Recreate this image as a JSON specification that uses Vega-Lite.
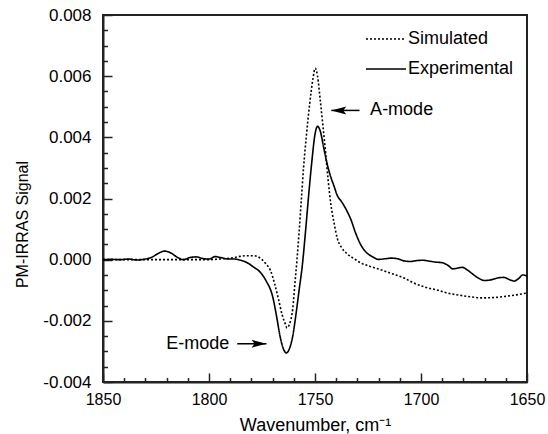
{
  "$schema": "https://vega.github.io/schema/vega-lite/v6.json",
  "width": 424,
  "height": 367,
  "autosize": {"type": "none"},
  "padding": {"left": 103, "top": 15, "right": 21, "bottom": 52},
  "background": "white",
  "config": {
    "font": "Liberation Sans",
    "view": {"stroke": "#222", "strokeWidth": 2},
    "axis": {
      "grid": false,
      "domainColor": "#222",
      "domainWidth": 2,
      "labelFont": "Liberation Sans",
      "labelFontSize": 16,
      "labelColor": "black",
      "titleFont": "Liberation Sans",
      "titleFontSize": 16,
      "titleFontWeight": "normal",
      "titleColor": "black"
    },
    "legend": {
      "labelFont": "Liberation Sans"
    }
  },
  "datasets": {
    "spectra": [
      {"wn": 1850, "signal": 0, "series": "Experimental"},
      {"wn": 1846, "signal": 0.00001, "series": "Experimental"},
      {"wn": 1842, "signal": 0, "series": "Experimental"},
      {"wn": 1838, "signal": 0.00002, "series": "Experimental"},
      {"wn": 1834, "signal": -0.00001, "series": "Experimental"},
      {"wn": 1830, "signal": 0.00002, "series": "Experimental"},
      {"wn": 1827, "signal": 0.00008, "series": "Experimental"},
      {"wn": 1824, "signal": 0.0002, "series": "Experimental"},
      {"wn": 1821, "signal": 0.00028, "series": "Experimental"},
      {"wn": 1818, "signal": 0.00022, "series": "Experimental"},
      {"wn": 1815, "signal": 0.00008, "series": "Experimental"},
      {"wn": 1812, "signal": 0.0, "series": "Experimental"},
      {"wn": 1809, "signal": 0.00007, "series": "Experimental"},
      {"wn": 1806, "signal": 0.00009, "series": "Experimental"},
      {"wn": 1803, "signal": 0.00004, "series": "Experimental"},
      {"wn": 1800, "signal": 0.00002, "series": "Experimental"},
      {"wn": 1797, "signal": 0.0001, "series": "Experimental"},
      {"wn": 1794, "signal": 0.00006, "series": "Experimental"},
      {"wn": 1791, "signal": 0.00002, "series": "Experimental"},
      {"wn": 1788, "signal": 0.00002, "series": "Experimental"},
      {"wn": 1785, "signal": -0.00002, "series": "Experimental"},
      {"wn": 1782, "signal": -0.0001, "series": "Experimental"},
      {"wn": 1779, "signal": -0.00024, "series": "Experimental"},
      {"wn": 1776, "signal": -0.0004, "series": "Experimental"},
      {"wn": 1773, "signal": -0.0007, "series": "Experimental"},
      {"wn": 1770, "signal": -0.0012, "series": "Experimental"},
      {"wn": 1768, "signal": -0.0019, "series": "Experimental"},
      {"wn": 1766.5, "signal": -0.0025, "series": "Experimental"},
      {"wn": 1765, "signal": -0.0029, "series": "Experimental"},
      {"wn": 1763.5, "signal": -0.00305, "series": "Experimental"},
      {"wn": 1762, "signal": -0.0029, "series": "Experimental"},
      {"wn": 1760.5, "signal": -0.0025, "series": "Experimental"},
      {"wn": 1759, "signal": -0.0018, "series": "Experimental"},
      {"wn": 1757.5, "signal": -0.001, "series": "Experimental"},
      {"wn": 1756, "signal": -0.0002, "series": "Experimental"},
      {"wn": 1754.5, "signal": 0.0009, "series": "Experimental"},
      {"wn": 1753, "signal": 0.0021, "series": "Experimental"},
      {"wn": 1751.5, "signal": 0.0032, "series": "Experimental"},
      {"wn": 1750, "signal": 0.0041, "series": "Experimental"},
      {"wn": 1748.8, "signal": 0.00436, "series": "Experimental"},
      {"wn": 1747.5, "signal": 0.0042, "series": "Experimental"},
      {"wn": 1746, "signal": 0.0037, "series": "Experimental"},
      {"wn": 1744.5, "signal": 0.0032, "series": "Experimental"},
      {"wn": 1743, "signal": 0.0028, "series": "Experimental"},
      {"wn": 1741, "signal": 0.0024, "series": "Experimental"},
      {"wn": 1739.5, "signal": 0.0021, "series": "Experimental"},
      {"wn": 1737.5, "signal": 0.0019, "series": "Experimental"},
      {"wn": 1735, "signal": 0.0016, "series": "Experimental"},
      {"wn": 1733, "signal": 0.0013, "series": "Experimental"},
      {"wn": 1731, "signal": 0.0009, "series": "Experimental"},
      {"wn": 1728.5, "signal": 0.0005, "series": "Experimental"},
      {"wn": 1726, "signal": 0.00025, "series": "Experimental"},
      {"wn": 1723, "signal": 0.0001, "series": "Experimental"},
      {"wn": 1720, "signal": 0.00001, "series": "Experimental"},
      {"wn": 1717, "signal": 0.00003, "series": "Experimental"},
      {"wn": 1714, "signal": 0.00005, "series": "Experimental"},
      {"wn": 1711, "signal": 0.00003, "series": "Experimental"},
      {"wn": 1708, "signal": -0.00004, "series": "Experimental"},
      {"wn": 1705, "signal": -0.00006, "series": "Experimental"},
      {"wn": 1702, "signal": -0.00003, "series": "Experimental"},
      {"wn": 1699, "signal": -0.00002, "series": "Experimental"},
      {"wn": 1696, "signal": -0.00005, "series": "Experimental"},
      {"wn": 1693, "signal": -0.00008, "series": "Experimental"},
      {"wn": 1690, "signal": -0.0001, "series": "Experimental"},
      {"wn": 1687, "signal": -0.0002, "series": "Experimental"},
      {"wn": 1685, "signal": -0.0003, "series": "Experimental"},
      {"wn": 1683, "signal": -0.00028, "series": "Experimental"},
      {"wn": 1680.5, "signal": -0.00025, "series": "Experimental"},
      {"wn": 1678.5, "signal": -0.00032, "series": "Experimental"},
      {"wn": 1676, "signal": -0.00045, "series": "Experimental"},
      {"wn": 1673, "signal": -0.0006, "series": "Experimental"},
      {"wn": 1670, "signal": -0.00068, "series": "Experimental"},
      {"wn": 1667, "signal": -0.00066, "series": "Experimental"},
      {"wn": 1664, "signal": -0.0006, "series": "Experimental"},
      {"wn": 1661, "signal": -0.00058, "series": "Experimental"},
      {"wn": 1658, "signal": -0.00066, "series": "Experimental"},
      {"wn": 1656, "signal": -0.0007, "series": "Experimental"},
      {"wn": 1654, "signal": -0.00062, "series": "Experimental"},
      {"wn": 1652, "signal": -0.0005, "series": "Experimental"},
      {"wn": 1650.5, "signal": -0.00052, "series": "Experimental"},
      {"wn": 1650, "signal": -0.00055, "series": "Experimental"},
      {"wn": 1850, "signal": 0, "series": "Simulated"},
      {"wn": 1840, "signal": 0, "series": "Simulated"},
      {"wn": 1830, "signal": 0, "series": "Simulated"},
      {"wn": 1820, "signal": 0, "series": "Simulated"},
      {"wn": 1810, "signal": 0, "series": "Simulated"},
      {"wn": 1800, "signal": 0, "series": "Simulated"},
      {"wn": 1795, "signal": 0.00002, "series": "Simulated"},
      {"wn": 1790, "signal": 0.00005, "series": "Simulated"},
      {"wn": 1786, "signal": 0.0001, "series": "Simulated"},
      {"wn": 1782, "signal": 0.00013, "series": "Simulated"},
      {"wn": 1779, "signal": 0.00013, "series": "Simulated"},
      {"wn": 1777, "signal": 0.0001, "series": "Simulated"},
      {"wn": 1775, "signal": 0.0, "series": "Simulated"},
      {"wn": 1773, "signal": -0.00015, "series": "Simulated"},
      {"wn": 1771, "signal": -0.00035, "series": "Simulated"},
      {"wn": 1769, "signal": -0.0008, "series": "Simulated"},
      {"wn": 1767.2, "signal": -0.0013, "series": "Simulated"},
      {"wn": 1765.5, "signal": -0.0018, "series": "Simulated"},
      {"wn": 1764, "signal": -0.0021, "series": "Simulated"},
      {"wn": 1763.2, "signal": -0.00223, "series": "Simulated"},
      {"wn": 1762, "signal": -0.0021, "series": "Simulated"},
      {"wn": 1760.5, "signal": -0.0016, "series": "Simulated"},
      {"wn": 1759.5, "signal": -0.0008, "series": "Simulated"},
      {"wn": 1758.5, "signal": 0.0, "series": "Simulated"},
      {"wn": 1757.5, "signal": 0.0009, "series": "Simulated"},
      {"wn": 1756.5, "signal": 0.0019, "series": "Simulated"},
      {"wn": 1755.4, "signal": 0.003, "series": "Simulated"},
      {"wn": 1754, "signal": 0.0041, "series": "Simulated"},
      {"wn": 1752.5, "signal": 0.0051, "series": "Simulated"},
      {"wn": 1751, "signal": 0.0059, "series": "Simulated"},
      {"wn": 1749.9, "signal": 0.00626, "series": "Simulated"},
      {"wn": 1748.8, "signal": 0.006, "series": "Simulated"},
      {"wn": 1747.5, "signal": 0.0052, "series": "Simulated"},
      {"wn": 1746.3, "signal": 0.0044, "series": "Simulated"},
      {"wn": 1745, "signal": 0.0035, "series": "Simulated"},
      {"wn": 1743.8, "signal": 0.0026, "series": "Simulated"},
      {"wn": 1742.5, "signal": 0.0018, "series": "Simulated"},
      {"wn": 1741, "signal": 0.0012, "series": "Simulated"},
      {"wn": 1739.5, "signal": 0.0007, "series": "Simulated"},
      {"wn": 1737.5, "signal": 0.0004, "series": "Simulated"},
      {"wn": 1735, "signal": 0.0002, "series": "Simulated"},
      {"wn": 1732, "signal": 0.00005, "series": "Simulated"},
      {"wn": 1728.6, "signal": -0.0001, "series": "Simulated"},
      {"wn": 1724, "signal": -0.00022, "series": "Simulated"},
      {"wn": 1719, "signal": -0.00033, "series": "Simulated"},
      {"wn": 1714, "signal": -0.00045, "series": "Simulated"},
      {"wn": 1708, "signal": -0.0006, "series": "Simulated"},
      {"wn": 1703.5, "signal": -0.00076, "series": "Simulated"},
      {"wn": 1698, "signal": -0.0009, "series": "Simulated"},
      {"wn": 1692, "signal": -0.001, "series": "Simulated"},
      {"wn": 1687.7, "signal": -0.00109, "series": "Simulated"},
      {"wn": 1682, "signal": -0.00116, "series": "Simulated"},
      {"wn": 1676, "signal": -0.00122, "series": "Simulated"},
      {"wn": 1672, "signal": -0.00125, "series": "Simulated"},
      {"wn": 1666, "signal": -0.00124, "series": "Simulated"},
      {"wn": 1660, "signal": -0.0012, "series": "Simulated"},
      {"wn": 1655, "signal": -0.00115, "series": "Simulated"},
      {"wn": 1650, "signal": -0.00109, "series": "Simulated"}
    ],
    "arrows": [
      {"label": "A-mode", "wn": 1742.3, "wn2": 1729, "signal": 0.00488},
      {"label": "E-mode", "wn": 1772.9, "wn2": 1786.7, "signal": -0.00275}
    ],
    "heads": [
      {"label": "A-mode", "wn": 1738.8, "signal": 0.00488, "dir": "left"},
      {"label": "E-mode", "wn": 1776.4, "signal": -0.00275, "dir": "right"}
    ],
    "labels": [
      {"label": "A-mode", "wn": 1724, "signal": 0.00488, "side": "left"},
      {"label": "E-mode", "wn": 1790.4, "signal": -0.00275, "side": "right"}
    ]
  },
  "encoding": {
    "x": {
      "field": "wn", "type": "quantitative",
      "scale": {"domain": [1650, 1850], "reverse": true, "nice": false, "zero": false},
      "axis": {
        "title": "Wavenumber, cm⁻¹",
        "values": [1850, 1840, 1830, 1820, 1810, 1800, 1790, 1780, 1770, 1760, 1750, 1740, 1730, 1720, 1710, 1700, 1690, 1680, 1670, 1660, 1650],
        "labelExpr": "datum.value % 50 === 0 ? format(datum.value, 'd') : ''",
        "tickSize": -9,
        "tickColor": "#222",
        "tickWidth": 1.5,
        "tickDash": {"condition": {"test": "datum.value % 50 === 0", "value": [9, 0]}, "value": [4.5, 9]},
        "labelPadding": 18,
        "labelFlush": false,
        "labelOverlap": false,
        "labelBound": false,
        "titleFontSize": 18,
        "titleBaseline": "alphabetic",
        "titleY": 48
      }
    },
    "y": {
      "field": "signal", "type": "quantitative",
      "scale": {"domain": [-0.004, 0.008], "nice": false, "zero": false},
      "axis": {
        "title": "PM-IRRAS Signal",
        "values": [-0.004, -0.0035, -0.003, -0.0025, -0.002, -0.0015, -0.001, -0.0005, 0, 0.0005, 0.001, 0.0015, 0.002, 0.0025, 0.003, 0.0035, 0.004, 0.0045, 0.005, 0.0055, 0.006, 0.0065, 0.007, 0.0075, 0.008],
        "labelExpr": "abs(datum.value*500 - round(datum.value*500)) < 0.001 ? replace(format(datum.value, '.3f'), '−', '-') : ''",
        "tickSize": -9,
        "tickColor": "#222",
        "tickWidth": 1.5,
        "tickDash": {"condition": {"test": "abs(datum.value*500 - round(datum.value*500)) < 0.001", "value": [9, 0]}, "value": [4.5, 9]},
        "labelFontSize": 17,
        "labelPadding": 21,
        "labelFlush": false,
        "labelOverlap": false,
        "labelBound": false,
        "titleX": -81,
        "titleY": 209,
        "titleBaseline": "middle",
        "titleAlign": "center"
      }
    }
  },
  "layer": [
    {
      "data": {"name": "spectra"},
      "mark": {"type": "line", "color": "black", "strokeWidth": 1.6, "interpolate": "monotone"},
      "encoding": {
        "strokeDash": {
          "field": "series", "type": "nominal",
          "scale": {"domain": ["Simulated", "Experimental"], "range": [[2, 2], [1, 0]]},
          "legend": {
            "title": null,
            "orient": "none",
            "legendX": 262,
            "legendY": 3,
            "symbolType": "stroke",
            "symbolSize": 1600,
            "symbolStrokeWidth": 1.5,
            "symbolStrokeColor": "black",
            "labelFontSize": 18,
            "labelColor": "black",
            "labelOffset": 1,
            "rowPadding": -12
          }
        },
        "detail": {"field": "series"}
      }
    },
    {
      "data": {"name": "arrows"},
      "mark": {"type": "rule", "color": "black", "strokeWidth": 1.5},
      "encoding": {
        "x2": {"field": "wn2"}
      }
    },
    {
      "data": {"name": "heads"},
      "mark": {"type": "point", "filled": true, "color": "black", "opacity": 1, "size": 225},
      "encoding": {
        "shape": {
          "field": "dir", "type": "nominal",
          "scale": {"domain": ["left", "right"], "range": ["M-1,0L1,-0.53L0.6,0L1,0.53Z", "M1,0L-1,-0.53L-0.6,0L-1,0.53Z"]},
          "legend": null
        }
      }
    },
    {
      "data": {"name": "labels"},
      "transform": [{"filter": "datum.side === 'left'"}],
      "mark": {"type": "text", "align": "left", "baseline": "middle", "fontSize": 18, "font": "Liberation Sans", "color": "black"},
      "encoding": {
        "text": {"field": "label"}
      }
    },
    {
      "data": {"name": "labels"},
      "transform": [{"filter": "datum.side === 'right'"}],
      "mark": {"type": "text", "align": "right", "baseline": "middle", "fontSize": 18, "font": "Liberation Sans", "color": "black"},
      "encoding": {
        "text": {"field": "label"}
      }
    }
  ]
}
